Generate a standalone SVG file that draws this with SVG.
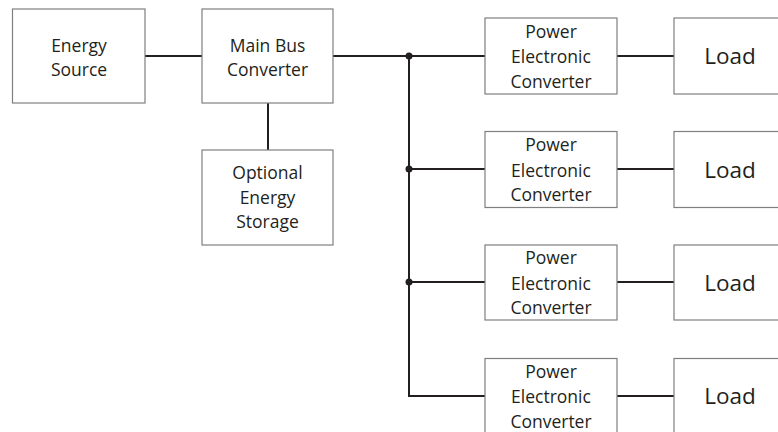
<svg xmlns="http://www.w3.org/2000/svg" width="778" height="432" viewBox="0 0 778 432">
<style>
.box{fill:#fff;stroke:#7f7f7f;stroke-width:1.2}
.t{font-family:"Open Sans","Liberation Sans",sans-serif;font-size:17.5px;fill:#231f20;text-anchor:middle}
.tl{font-family:"Open Sans","Liberation Sans",sans-serif;font-size:22.5px;fill:#231f20;text-anchor:middle}
.c{fill:none;stroke:#231f20;stroke-width:2}
.dot{fill:#231f20}
</style>
<rect width="778" height="432" fill="#fff"/>
<g id="connectors">
<line class="c" x1="145" y1="56" x2="202" y2="56"/>
<line class="c" x1="268" y1="103" x2="268" y2="150"/>
<line class="c" x1="333" y1="56" x2="485" y2="56"/>
<polyline class="c" points="409,56 409,396 485,396"/>
<line class="c" x1="409" y1="169" x2="485" y2="169"/>
<line class="c" x1="409" y1="282" x2="485" y2="282"/>
<line class="c" x1="617" y1="56" x2="674" y2="56"/>
<line class="c" x1="617" y1="169" x2="674" y2="169"/>
<line class="c" x1="617" y1="282" x2="674" y2="282"/>
<line class="c" x1="617" y1="396" x2="674" y2="396"/>
<circle class="dot" cx="409" cy="56" r="3.5"/>
<circle class="dot" cx="409" cy="169" r="3.5"/>
<circle class="dot" cx="409" cy="282" r="3.5"/>
</g>
<g id="energy-source">
<rect class="box" x="12.5" y="9" width="132.5" height="94"/>
<text class="t" x="79" y="51.5">Energy</text>
<text class="t" x="79" y="76">Source</text>
</g>
<g id="main-bus-converter">
<rect class="box" x="202" y="9" width="131" height="94"/>
<text class="t" x="267.5" y="51.5">Main Bus</text>
<text class="t" x="267.5" y="76">Converter</text>
</g>
<g id="optional-energy-storage">
<rect class="box" x="202" y="150" width="131" height="95"/>
<text class="t" x="267.5" y="179">Optional</text>
<text class="t" x="267.5" y="203.5">Energy</text>
<text class="t" x="267.5" y="228">Storage</text>
</g>
<g id="pec1">
<rect class="box" x="485" y="18" width="132" height="76"/>
<text class="t" x="551" y="37.5">Power</text>
<text class="t" x="551" y="63">Electronic</text>
<text class="t" x="551" y="87.5">Converter</text>
</g>
<g id="load1">
<rect class="box" x="674" y="18" width="130" height="76"/>
<text class="tl" x="730" y="64">Load</text>
</g>
<g id="pec2">
<rect class="box" x="485" y="131.5" width="132" height="76"/>
<text class="t" x="551" y="151">Power</text>
<text class="t" x="551" y="176.5">Electronic</text>
<text class="t" x="551" y="201">Converter</text>
</g>
<g id="load2">
<rect class="box" x="674" y="131.5" width="130" height="76"/>
<text class="tl" x="730" y="177.5">Load</text>
</g>
<g id="pec3">
<rect class="box" x="485" y="245" width="132" height="75"/>
<text class="t" x="551" y="264">Power</text>
<text class="t" x="551" y="289.5">Electronic</text>
<text class="t" x="551" y="314">Converter</text>
</g>
<g id="load3">
<rect class="box" x="674" y="245" width="130" height="75"/>
<text class="tl" x="730" y="290.5">Load</text>
</g>
<g id="pec4">
<rect class="box" x="485" y="358.5" width="132" height="76"/>
<text class="t" x="551" y="377.5">Power</text>
<text class="t" x="551" y="403">Electronic</text>
<text class="t" x="551" y="427.5">Converter</text>
</g>
<g id="load4">
<rect class="box" x="674" y="358.5" width="130" height="76"/>
<text class="tl" x="730" y="404">Load</text>
</g>
</svg>
